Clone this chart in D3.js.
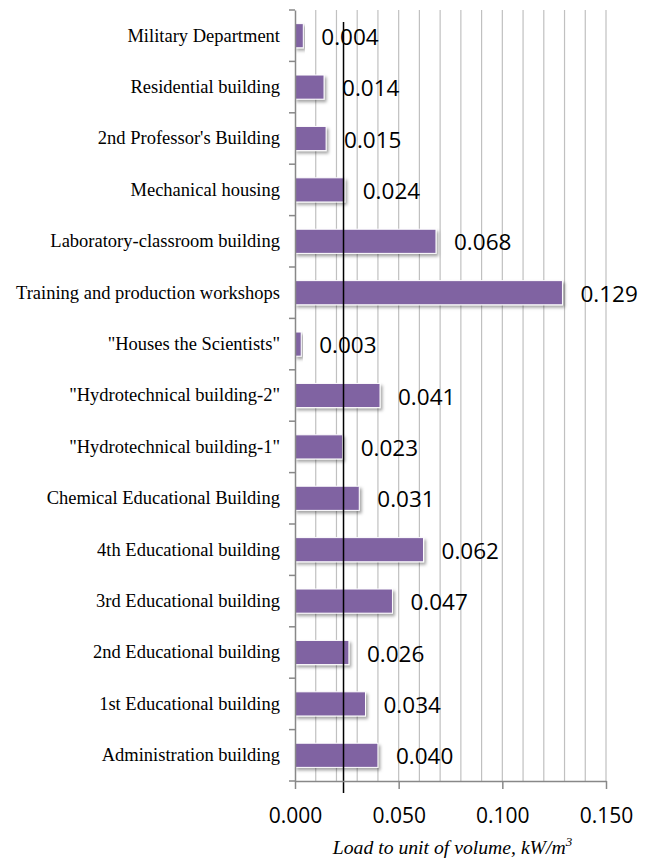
<!DOCTYPE html>
<html>
<head>
<meta charset="utf-8">
<script src="https://cdn.jsdelivr.net/npm/d3@7"></script>
<style>
  body { margin: 0; background: #fff; }
</style>
</head>
<body>
<svg class="mainSvg"></svg>
<script>
// ===========================================================================
//     data area
// ===========================================================================
const buildings = [
  'Military Department',
  'Residential building',
  "2nd Professor's Building",
  'Mechanical housing',
  'Laboratory-classroom building',
  'Training and production workshops',
  '"Houses the Scientists"',
  '"Hydrotechnical building-2"',
  '"Hydrotechnical building-1"',
  'Chemical Educational Building',
  '4th Educational building',
  '3rd Educational building',
  '2nd Educational building',
  '1st Educational building',
  'Administration building',
];
const loads = [0.004, 0.014, 0.015, 0.024, 0.068, 0.129, 0.003, 0.041,
  0.023, 0.031, 0.062, 0.047, 0.026, 0.034, 0.040];
const tickValues = [0, 0.05, 0.1, 0.15];
const gridValues = d3.range(0, 0.1501, 0.01);
const refLine = 0.0234;

const initWidth = 652;
const initHeight = 868;
const margin = { top: 10, right: 46, bottom: 87, left: 295 };
const barColor = '#8064a2';

// ===========================================================================
//      procedure
// ===========================================================================
const svg = d3.select('.mainSvg')
  .attr('width', initWidth)
  .attr('height', initHeight);

const defs = svg.append('defs');
const shadow = defs.append('filter').attr('id', 'barShadow')
  .attr('x', '-10%').attr('y', '-30%').attr('width', '130%').attr('height', '180%');
shadow.append('feDropShadow')
  .attr('dx', 2).attr('dy', 2.5).attr('stdDeviation', 1.5)
  .attr('flood-color', '#000').attr('flood-opacity', 0.35);

const plotW = initWidth - margin.left - margin.right;
const plotH = initHeight - margin.top - margin.bottom;

const x = d3.scaleLinear().domain([0, 0.15]).range([0, plotW]);
const y = d3.scaleBand().domain(buildings).range([0, plotH]);

const g = svg.append('g').attr('transform', `translate(${margin.left},${margin.top})`);

// gridlines
g.append('g')
  .selectAll('line')
  .data(gridValues.slice(1))
  .enter()
  .append('line')
  .attr('x1', d => x(d)).attr('x2', d => x(d))
  .attr('y1', 0).attr('y2', plotH)
  .attr('stroke', '#c0c0c0')
  .attr('stroke-width', 1.2);

// bars
const barH = y.bandwidth() * 0.47;
g.append('g')
  .selectAll('rect')
  .data(buildings)
  .enter()
  .append('rect')
  .attr('x', 0)
  .attr('y', d => y(d) + (y.bandwidth() - barH) / 2)
  .attr('width', (d, i) => x(loads[i]))
  .attr('height', barH)
  .attr('fill', barColor)
  .attr('stroke', '#fff')
  .attr('stroke-width', 1)
  .attr('filter', 'url(#barShadow)');

// reference line
g.append('line')
  .attr('x1', x(refLine)).attr('x2', x(refLine))
  .attr('y1', 12).attr('y2', plotH + 12)
  .attr('stroke', '#000')
  .attr('stroke-width', 1.5);

// value labels
g.append('g')
  .selectAll('text')
  .data(buildings)
  .enter()
  .append('text')
  .text((d, i) => loads[i].toFixed(3))
  .attr('x', (d, i) => x(loads[i]) + 18)
  .attr('y', d => y(d) + y.bandwidth() / 2 + 9)
  .attr('font-family', '"Open Sans", sans-serif')
  .attr('font-size', 22.5)
  .attr('fill', '#000');

// y axis
const yAxis = g.append('g')
  .call(d3.axisLeft(y).tickSize(0).tickPadding(15));
yAxis.select('.domain').attr('stroke', '#888').attr('stroke-width', 1.5);
yAxis.selectAll('text')
  .attr('font-family', '"Liberation Serif", "Times New Roman", serif')
  .attr('font-size', 18.5)
  .attr('fill', '#000');
yAxis.selectAll('.sep')
  .data(buildings.concat(['end']))
  .enter()
  .append('line')
  .attr('class', 'sep')
  .attr('x1', -6).attr('x2', 0)
  .attr('y1', (d, i) => i * y.step())
  .attr('y2', (d, i) => i * y.step())
  .attr('stroke', '#888')
  .attr('stroke-width', 1.5);

// x axis
const xAxis = g.append('g')
  .attr('transform', `translate(0,${plotH})`)
  .call(d3.axisBottom(x).tickValues(tickValues).tickFormat(d3.format('.3f'))
    .tickSize(8).tickSizeOuter(0).tickPadding(19));
xAxis.select('.domain').attr('stroke', '#888').attr('stroke-width', 1.5);
xAxis.selectAll('.tick line').attr('stroke', '#888').attr('stroke-width', 1.5);
xAxis.selectAll('text')
  .attr('font-family', '"Open Sans", sans-serif')
  .attr('font-size', 21)
  .attr('fill', '#000');

// axis title
const title = svg.append('text')
  .attr('x', margin.left + plotW / 2 + 2)
  .attr('y', 854)
  .attr('text-anchor', 'middle')
  .attr('font-family', '"Liberation Serif", "Times New Roman", serif')
  .attr('font-style', 'italic')
  .attr('font-size', 19.7)
  .attr('fill', '#000');
title.append('tspan').text('Load to unit of volume, kW/m');
title.append('tspan').text('3').attr('font-size', 13).attr('dy', -8);
</script>
</body>
</html>
